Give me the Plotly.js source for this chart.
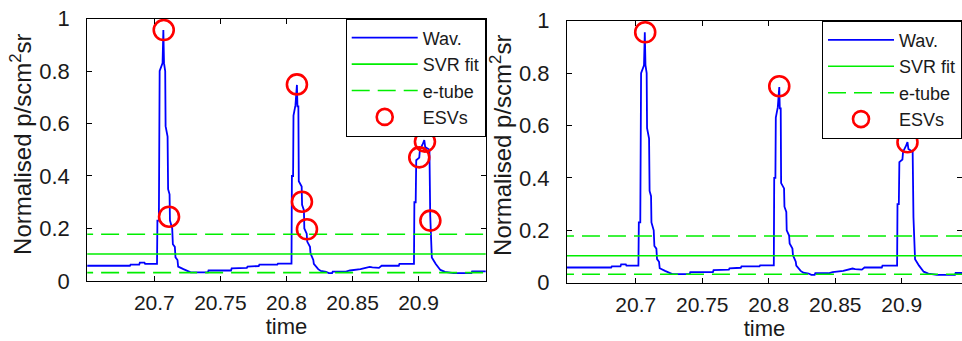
<!DOCTYPE html>
<html>
<head>
<meta charset="utf-8">
<script src="https://cdn.plot.ly/plotly-3.0.1.min.js"></script>
<style>
html,body{margin:0;padding:0;background:#fff;overflow:hidden;}
#chart{width:962px;height:341px;}
</style>
</head>
<body>
<div id="chart"></div>
<script>
// ---- data ----
const waveT = [
  20.6480, 20.6815, 20.6820, 20.6885, 20.6890, 20.6925, 20.6930, 20.7020,
  20.7023, 20.7034, 20.7040, 20.7062, 20.7068, 20.7073, 20.7082, 20.7085,
  20.7100, 20.7104, 20.7115, 20.7118, 20.7135, 20.7140, 20.7155, 20.7160,
  20.7175, 20.7180, 20.7220, 20.7250, 20.7275, 20.7405, 20.7410, 20.7580,
  20.7585, 20.7700, 20.7705, 20.7790, 20.7795, 20.7930, 20.7935, 20.8038,
  20.8041, 20.8050, 20.8053, 20.8068, 20.8075, 20.8079, 20.8083, 20.8090,
  20.8093, 20.8115, 20.8118, 20.8132, 20.8135, 20.8153, 20.8157, 20.8178,
  20.8182, 20.8203, 20.8207, 20.8240, 20.8260, 20.8300, 20.8320, 20.8345,
  20.8350, 20.8450, 20.8480, 20.8560, 20.8630, 20.8650, 20.8700, 20.8720,
  20.8850, 20.8855, 20.8965, 20.8968, 20.8978, 20.8982, 20.9005, 20.9010,
  20.9030, 20.9043, 20.9050, 20.9082, 20.9088, 20.9095, 20.9100, 20.9130,
  20.9165, 20.9200, 20.9265, 20.9400, 20.9405, 20.9520
];
const waveV = [
  0.058, 0.058, 0.062, 0.062, 0.070, 0.070, 0.065, 0.065,
  0.230, 0.230, 0.800, 0.830, 0.956, 0.830, 0.800, 0.590,
  0.550, 0.350, 0.330, 0.230, 0.200, 0.140, 0.130, 0.090,
  0.080, 0.055, 0.045, 0.038, 0.033, 0.033, 0.040, 0.040,
  0.048, 0.050, 0.055, 0.057, 0.062, 0.062, 0.066, 0.066,
  0.400, 0.400, 0.630, 0.670, 0.747, 0.747, 0.665, 0.665,
  0.380, 0.360, 0.290, 0.270, 0.200, 0.180, 0.150, 0.130,
  0.105, 0.080, 0.065, 0.045, 0.038, 0.035, 0.030, 0.030,
  0.036, 0.036, 0.040, 0.045, 0.054, 0.052, 0.050, 0.058,
  0.058, 0.065, 0.065, 0.300, 0.300, 0.460, 0.470, 0.500,
  0.520, 0.537, 0.510, 0.500, 0.250, 0.120, 0.090, 0.065,
  0.042, 0.035, 0.030, 0.030, 0.037, 0.037
];
// support vector regression fit and epsilon tube
const svrT = [20.640, 20.960];
const svrV = [0.103, 0.103];
const tubeUpperV = [0.178, 0.178];
const tubeLowerV = [0.032, 0.032];
// essential support vectors
const esvLeftT = [20.7071, 20.7111, 20.8079, 20.8117, 20.8155, 20.9005, 20.9048, 20.9089];
const esvLeftV = [0.956, 0.245, 0.749, 0.302, 0.197, 0.471, 0.531, 0.230];
const esvRightT = [20.7071, 20.8079, 20.9043];
const esvRightV = [0.956, 0.750, 0.536];
// ticks and labels
const xTickVals = [20.7, 20.75, 20.8, 20.85, 20.9];
const xTickText = ['20.7', '20.75', '20.8', '20.85', '20.9'];
const yTickVals = [0, 0.2, 0.4, 0.6, 0.8, 1];
const yTickText = ['0', '0.2', '0.4', '0.6', '0.8', '1'];
const xTitle = 'time';
const yTitle = 'Normalised p/scm<sup>2</sup>sr';

const FONT = 'Liberation Sans, Arial, Helvetica, sans-serif';
const NARROW = 'Liberation Sans Narrow, Arial Narrow, Liberation Sans, Arial, sans-serif';
const BLUE = '#0000ff', GREEN = '#00ee00', RED = '#ff0000';

function panelTraces(xa, ya, leg, esvT, esvV) {
  const tubeX = [svrT[0], svrT[1], null, svrT[0], svrT[1]];
  const tubeY = [tubeUpperV[0], tubeUpperV[1], null, tubeLowerV[0], tubeLowerV[1]];
  return [
    {x: waveT, y: waveV, xaxis: xa, yaxis: ya, legend: leg, type: 'scatter', mode: 'lines',
     name: 'Wav.', line: {color: BLUE, width: 1.8}},
    {x: svrT, y: svrV, xaxis: xa, yaxis: ya, legend: leg, type: 'scatter', mode: 'lines',
     name: 'SVR fit', line: {color: GREEN, width: 1.6}},
    {x: tubeX, y: tubeY, xaxis: xa, yaxis: ya, legend: leg, type: 'scatter', mode: 'lines',
     name: 'e-tube', connectgaps: false, line: {color: GREEN, width: 1.6, dash: '18px,8px'}},
    {x: esvT, y: esvV, xaxis: xa, yaxis: ya, legend: leg, type: 'scatter', mode: 'markers',
     name: 'ESVs', marker: {symbol: 'circle-open', size: 20, color: RED, line: {color: RED, width: 2.6}}}
  ];
}

const data = [].concat(
  panelTraces('x', 'y', 'legend', esvLeftT, esvLeftV),
  panelTraces('x2', 'y2', 'legend2', esvRightT, esvRightV)
);

function xAxis(domain, range, anchor) {
  return {
    domain: domain, range: range, anchor: anchor,
    tickmode: 'array', tickvals: xTickVals, ticktext: xTickText,
    ticks: 'inside', ticklen: 5, tickwidth: 1, tickcolor: '#000',
    showline: true, mirror: 'ticks', linecolor: '#000', linewidth: 1,
    showgrid: false, zeroline: false, ticklabelstandoff: 3,
    tickfont: {family: FONT, size: 21, color: '#1a1a1a'},
    title: {text: xTitle, standoff: 0, font: {family: FONT, size: 22, color: '#1a1a1a'}}
  };
}
function yAxis(domain, anchor) {
  return {
    domain: domain, range: [0, 1], anchor: anchor,
    tickmode: 'array', tickvals: yTickVals, ticktext: yTickText,
    ticks: 'inside', ticklen: 5, tickwidth: 1, tickcolor: '#000',
    showline: true, mirror: 'ticks', linecolor: '#000', linewidth: 1,
    showgrid: false, zeroline: false, ticklabelstandoff: 12,
    tickfont: {family: NARROW, size: 22, color: '#1a1a1a'}
  };
}
function legendBox(x, y) {
  return {
    x: x, y: y, xref: 'paper', yref: 'paper', xanchor: 'right', yanchor: 'top',
    bgcolor: '#fff', bordercolor: '#000', borderwidth: 1,
    font: {family: FONT, size: 18, color: '#1a1a1a'},
    itemwidth: 66, tracegroupgap: 0, itemclick: false
  };
}
function yTitleAnn(x, y) {
  return {
    text: yTitle, xref: 'paper', yref: 'paper', x: x, y: y,
    xanchor: 'center', yanchor: 'middle', textangle: -90, showarrow: false,
    font: {family: FONT, size: 24, color: '#1a1a1a'}
  };
}

const layout = {
  width: 962, height: 341,
  margin: {l: 0, r: 0, t: 0, b: 0},
  paper_bgcolor: '#fff', plot_bgcolor: '#fff',
  showlegend: true,
  xaxis: xAxis([0.0907, 0.5049], [20.6492, 20.9508], 'y'),
  yaxis: yAxis([0.176, 0.9457], 'x'),
  xaxis2: xAxis([0.5894, 1.0], [20.6483, 20.9453], 'y2'),
  yaxis2: yAxis([0.171, 0.9393], 'x2'),
  legend: legendBox(0.5049, 0.9457),
  legend2: legendBox(1.0, 0.9393),
  annotations: [yTitleAnn(0.0225, 0.577), yTitleAnn(0.5215, 0.574)]
};

Plotly.newPlot('chart', data, layout, {staticPlot: true, displayModeBar: false});
</script>
</body>
</html>
